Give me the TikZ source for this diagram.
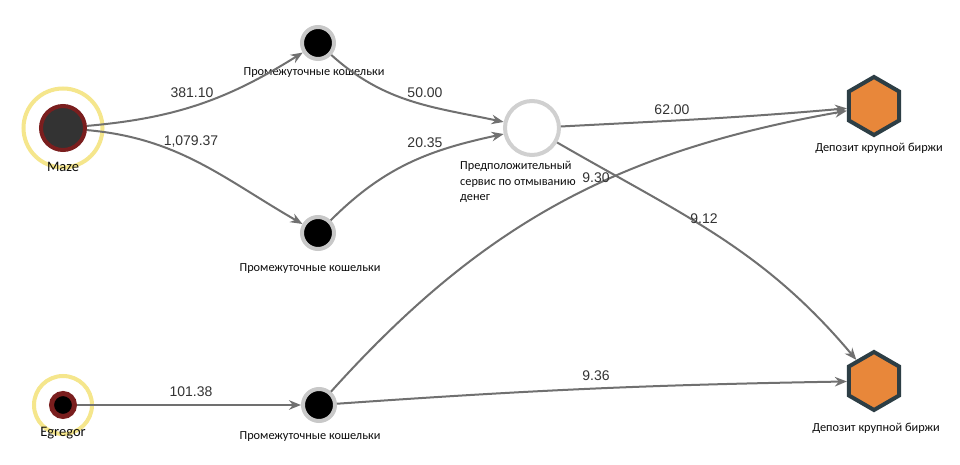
\documentclass[tikz,border=0pt]{standalone}
\usepackage{fontspec}
\setmainfont{Liberation Sans}
\newfontfamily\lblfont{Carlito}
\usetikzlibrary{shapes.geometric,arrows.meta}
\definecolor{ringyellow}{RGB}{245,230,140}
\definecolor{darkred}{RGB}{122,30,30}
\definecolor{darkfill}{RGB}{51,51,51}
\definecolor{midgray}{RGB}{200,200,200}
\definecolor{svcgray}{RGB}{208,208,208}
\definecolor{edgegray}{RGB}{112,112,112}
\definecolor{hexfill}{RGB}{232,135,58}
\definecolor{hexborder}{RGB}{45,62,69}
\begin{document}
\begin{tikzpicture}[x=1pt,y=1pt,
  ring/.style={circle,draw=ringyellow,line width=4pt,inner sep=0pt,minimum size=#1},
  srcnode/.style={circle,draw=darkred,fill=#1,inner sep=0pt},
  midnode/.style={circle,draw=midgray,fill=black,line width=4pt,inner sep=0pt,minimum size=32pt},
  svcnode/.style={circle,draw=svcgray,fill=white,line width=4pt,inner sep=0pt,minimum size=54pt},
  hexnode/.style={regular polygon,regular polygon sides=6,regular polygon rotate=30,draw=hexborder,fill=hexfill,line width=4pt,inner sep=0pt,minimum size=58pt},
  nodelabel/.style={font=\lblfont\fontsize{12.3}{15.5}\selectfont,inner sep=0pt,text=black!95},
  srclabel/.style={font=\lblfont\fontsize{14.5}{16}\selectfont,inner sep=0pt,text=black!95},
  edgelabel/.style={font=\fontsize{14}{16}\selectfont,inner sep=0pt,text=black!80},
  edge/.style={draw=edgegray,line width=2pt,-{Stealth[length=12pt,width=9.5pt]}}
]
\useasboundingbox[fill=white] (0,0) rectangle (960,465);

% source nodes
\node[ring=79pt] (mazering) at (63,337) {};
\node[srcnode=darkfill,line width=4pt,minimum size=44pt] (maze) at (63,337) {};
\node[srclabel] (mazelbl) at (63,298) {Maze};

\node[ring=58pt] (egring) at (63,60) {};
\node[srcnode=black,line width=5pt,minimum size=23pt] (egregor) at (63,60) {};
\node[srclabel] (eglbl) at (63,32) {Egregor};

% intermediate wallets
\node[midnode] (mid1) at (318,422) {};
\node[nodelabel] (mid1lbl) at (314,392) {Промежуточные кошельки};
\node[midnode] (mid2) at (318,232) {};
\node[nodelabel] (mid2lbl) at (310,196) {Промежуточные кошельки};
\node[midnode] (mid3) at (319,60) {};
\node[nodelabel] (mid3lbl) at (310,28) {Промежуточные кошельки};

% service
\node[svcnode] (svc) at (532,337) {};
\node[nodelabel,align=left,anchor=north west] (svclbl) at (460,304) {Предположительный\\сервис по отмыванию\\денег};

% exchanges
\node[hexnode] (ex1) at (874,359) {};
\node[nodelabel] (ex1lbl) at (879,317) {Депозит крупной биржи};
\node[hexnode] (ex2) at (874,84) {};
\node[nodelabel] (ex2lbl) at (876,37) {Депозит крупной биржи};

% edges
\draw[edge] (maze) to[out=5,in=212] (mid1);
\draw[edge] (maze) to[out=-5,in=150] (mid2);
\draw[edge] (mid1) to[out=-42,in=168] (svc);
\draw[edge] (mid2) to[out=45,in=192] (svc);
\draw[edge] (svc) to[out=3,in=185] (ex1);
\draw[edge] (svc) to[out=-30,in=130] (ex2);
\draw[edge] (mid3) to[out=48,in=190] (ex1);
\draw[edge] (mid3) to[out=4,in=181] (ex2);
\draw[edge] (egregor) -- (mid3);

% edge labels
\node[edgelabel] (l1) at (192,372) {381.10};
\node[edgelabel] (l2) at (191,323) {1,079.37};
\node[edgelabel] (l3) at (425,372) {50.00};
\node[edgelabel] (l4) at (425,322) {20.35};
\node[edgelabel] (l5) at (672,355) {62.00};
\node[edgelabel] (l6) at (596,287) {9.30};
\node[edgelabel] (l7) at (704,246) {9.12};
\node[edgelabel] (l8) at (596,89) {9.36};
\node[edgelabel] (l9) at (191,73) {101.38};
\end{tikzpicture}
\end{document}
